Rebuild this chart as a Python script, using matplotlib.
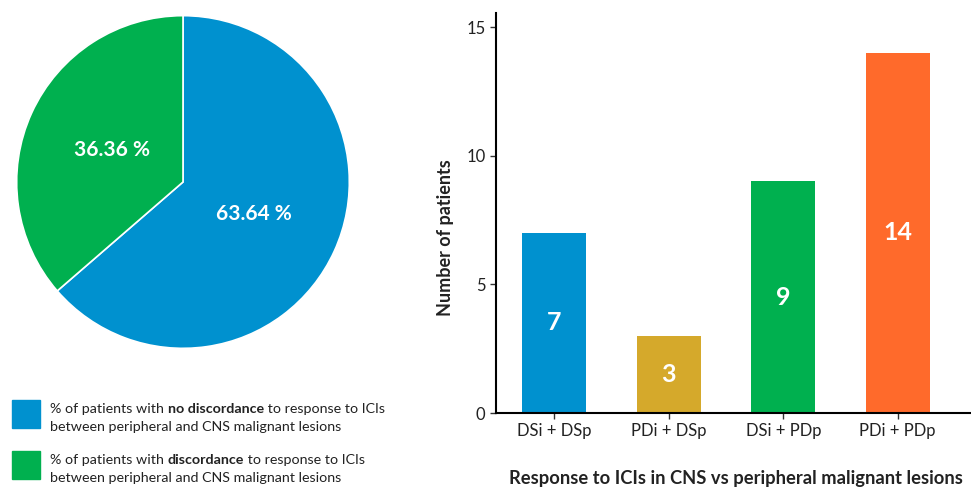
import matplotlib
matplotlib.use("Agg")
import matplotlib.pyplot as plt
from matplotlib.text import Annotation

# pie: share of patients with / without discordant response
pie_labels = ["no discordance", "discordance"]
pie_values = [63.64, 36.36]
pie_colors = ["#0091CF", "#00B04F"]

# bars: response combinations (intracranial + peripheral)
bar_names = ["DSi + DSp", "PDi + DSp", "DSi + PDp", "PDi + PDp"]
bar_counts = [7, 3, 9, 14]
bar_colors = ["#0091CF", "#D5A92B", "#00B04F", "#FF6A2B"]
y_ticks = [0, 5, 10, 15]

plt.rcParams["font.family"] = ["Lato", "DejaVu Sans"]
ink = "#222222"

W, H = 971, 490
fig = plt.figure(figsize=(W / 100, H / 100), dpi=100)


def px_axes(x0, y0, x1, y1):
    # pixel box measured from top-left
    return fig.add_axes([x0 / W, 1 - y1 / H, (x1 - x0) / W, (y1 - y0) / H])


# ---- pie ----
ax_pie = px_axes(15, 14, 351, 350)
ax_pie.pie(
    pie_values, colors=pie_colors, startangle=90, counterclock=False,
    autopct=lambda p: f"{p:.2f} %", pctdistance=0.47,
    wedgeprops=dict(edgecolor="white", linewidth=1.2),
    textprops=dict(color="white", fontsize=15, fontweight="bold"))
ax_pie.set_aspect("equal")
ax_pie.set_xlim(-1.01, 1.01)
ax_pie.set_ylim(-1.01, 1.01)

# ---- legend ----
leg_rows = [
    ("% of patients with ", "no discordance", " to response to ICIs", pie_colors[0], 400),
    ("% of patients with ", "discordance", " to response to ICIs", pie_colors[1], 451),
]
for pre, bold, post, col, top in leg_rows:
    fig.patches.append(plt.Rectangle((12 / W, 1 - (top + 28) / H), 28 / W, 28 / H,
                                     transform=fig.transFigure, color=col))
    t1 = fig.text(50 / W, 1 - (top + 9) / H, pre, fontsize=10.3, va="center", color=ink)
    t2 = fig.add_artist(Annotation(bold, xy=(1, 0), xycoords=t1, va="bottom", ha="left",
                                   fontsize=10.3, fontweight="bold", color=ink))
    fig.add_artist(Annotation(post, xy=(1, 0), xycoords=t2, va="bottom", ha="left",
                              fontsize=10.3, color=ink))
    fig.text(50 / W, 1 - (top + 27) / H, "between peripheral and CNS malignant lesions",
             fontsize=10.3, va="center", color=ink)

# ---- bars ----
ax = px_axes(496, 13, 971, 413)
x = range(len(bar_counts))
bars = ax.bar(x, bar_counts, width=0.56, color=bar_colors)
for b, v in zip(bars, bar_counts):
    ax.text(b.get_x() + b.get_width() / 2, v / 2, str(v), ha="center", va="center",
            color="white", fontsize=18, fontweight="bold")
ax.set_xlim(-0.51, 3.64)
ax.set_ylim(0, 15.55)
ax.set_yticks(y_ticks)
ax.set_xticks(list(x))
ax.set_xticklabels(bar_names)
ax.tick_params(labelsize=12, length=4, width=1, color="#333333", labelcolor=ink)
ax.spines["top"].set_visible(False)
ax.spines["right"].set_visible(False)
ax.spines["left"].set_linewidth(1.5)
ax.spines["bottom"].set_linewidth(1.5)
ax.set_ylabel("Number of patients", fontsize=13, fontweight="bold", color=ink)
ax.yaxis.set_label_coords(-0.107, 0.4375)
ax.set_xlabel("Response to ICIs in CNS vs peripheral malignant lesions", fontsize=13.2,
              fontweight="bold", color=ink)
ax.xaxis.set_label_coords(0.505, -0.1625)
ax.xaxis.label.set_va("center")
ax.yaxis.label.set_va("center")

fig.savefig("out.png", dpi=100)
